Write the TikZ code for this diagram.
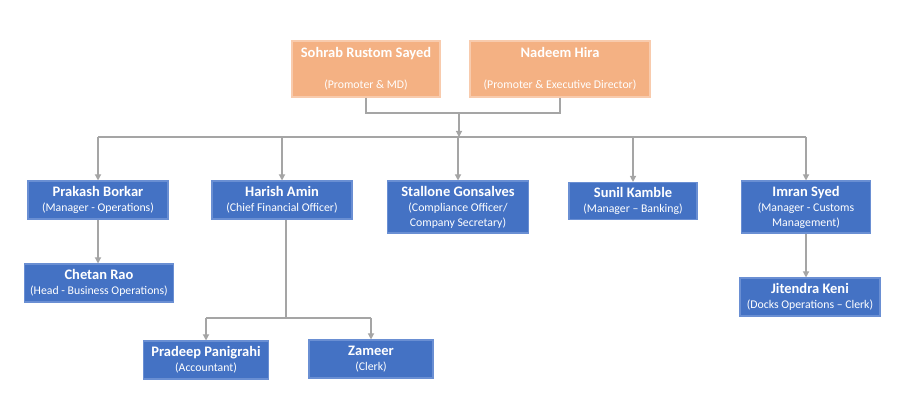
\documentclass[tikz,border=0pt]{standalone}
\usepackage{fontspec}
\setmainfont{Carlito}
\usetikzlibrary{arrows.meta}
\usetikzlibrary{positioning}

\definecolor{topfill}{HTML}{F4B183}
\definecolor{topline}{HTML}{F8CBAD}
\definecolor{staffill}{HTML}{4472C4}
\definecolor{staffline}{HTML}{6A8FD3}
\definecolor{linkgray}{HTML}{A5A5A5}

\tikzset{
    promoter/.style={fill=topfill, draw=topline, line width=0.6pt, text=white, align=center, inner sep=0pt,
        font=\fontsize{6.7}{8.5}\selectfont, minimum height=1.12cm},
    staff/.style={fill=staffill, draw=staffline, line width=0.6pt, text=white, align=center, inner sep=0pt,
        font=\fontsize{6.7}{8.5}\selectfont, minimum height=0.76cm},
    link/.style={draw=linkgray, line width=0.7pt},
    arrowlink/.style={link, -{Triangle[length=3.5pt, width=3.5pt]}},
}
\newcommand{\bignm}{\fontsize{8.25}{8.5}\selectfont\bfseries}
\newcommand{\who}[2]{\bignm #1\\#2}

\begin{document}
\begin{tikzpicture}[x=0.02cm, y=-0.02cm]

        \useasboundingbox (0,0) rectangle (902,411);

        % promoters
        \node[promoter, minimum width=2.96cm] (sohrab) at (366,69)
            {\bignm Sohrab Rustom Sayed\\[0.32cm](Promoter \& MD)};
        \node[promoter, minimum width=3.6cm] (nadeem) at (560,69)
            {\bignm Nadeem Hira\\[0.32cm](Promoter \& Executive Director)};

        % second level
        \node[staff, minimum width=2.8cm] (prakash) at (98,200) {\who{Prakash Borkar}{(Manager - Operations)}};
        \node[staff, minimum width=2.8cm] (harish) at (282,200) {\who{Harish Amin}{(Chief Financial Officer)}};
        \node[staff, minimum width=2.82cm, minimum height=1.04cm] (stallone) at (458,207)
            {\who{Stallone Gonsalves}{(Compliance Officer/\\Company Secretary)}};
        \node[staff, minimum width=2.56cm, minimum height=0.74cm] (sunil) at (633,201) {\who{Sunil Kamble}{(Manager -- Banking)}};
        \node[staff, minimum width=2.58cm, minimum height=1.04cm] (imran) at (806,207)
            {\who{Imran Syed}{(Manager - Customs\\Management)}};

        % third level
        \node[staff, minimum width=2.98cm] (chetan) at (99,283) {\who{Chetan Rao}{(Head - Business Operations)}};
        \node[staff, minimum width=2.8cm] (jitendra) at (810,297) {\who{Jitendra Keni}{(Docks Operations -- Clerk)}};
        \node[staff, minimum width=2.5cm] (pradeep) at (206,360) {\who{Pradeep Panigrahi}{(Accountant)}};
        \node[staff, minimum width=2.48cm] (zameer) at (371,359) {\who{Zameer}{(Clerk)}};

        \coordinate (join) at (459,113);
        \coordinate (bar) at (459,137);
        \coordinate (subbar) at (286,318);

        % promoters to staff
        \path[link] (sohrab.south) |- (join) -| (nadeem.south);
        \path[arrowlink] (join) -- (bar);
        \path[link] (prakash.north |- bar) -- (imran.north |- bar);
        \foreach \p in {prakash,harish,stallone,sunil,imran}
            \path[arrowlink] (\p.north |- bar) -- (\p.north);

        \path[arrowlink] (prakash.south) -- (chetan.north -| prakash.south);
        \path[arrowlink] (imran.south) -- (jitendra.north -| imran.south);

        \path[link] (harish.south -| subbar) -- (subbar);
        \path[link] (pradeep.north |- subbar) -- (zameer.north |- subbar);
        \path[arrowlink] (pradeep.north |- subbar) -- (pradeep.north);
        \path[arrowlink] (zameer.north |- subbar) -- (zameer.north);

    \end{tikzpicture}
\end{document}
